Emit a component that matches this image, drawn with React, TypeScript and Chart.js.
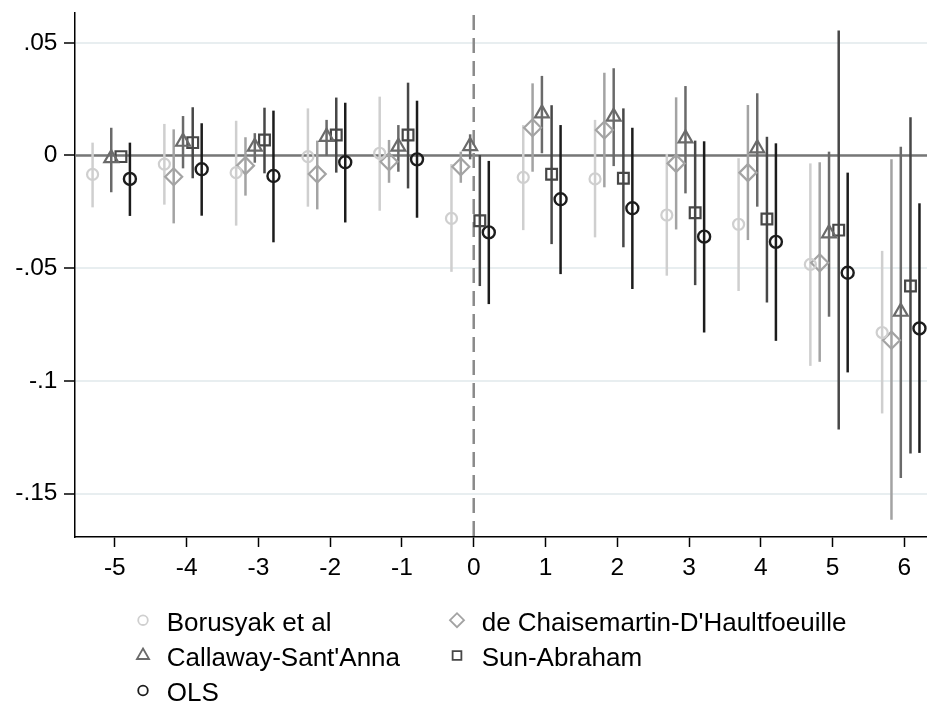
import React, { useEffect, useRef } from 'react';
import { Chart, registerables } from 'chart.js';

Chart.register(...registerables);

// ---------------- data ----------------
const periods = [-5, -4, -3, -2, -1, 0, 1, 2, 3, 4, 5, 6];
const xTicks = [-5, -4, -3, -2, -1, 0, 1, 2, 3, 4, 5, 6];
const yTicks = [0.05, 0, -0.05, -0.1, -0.15];
const yTickLabels = ['.05', '0', '-.05', '-.1', '-.15'];

const seriesNames = [
  'Borusyak et al',
  "de Chaisemartin-D'Haultfoeuille",
  "Callaway-Sant'Anna",
  'Sun-Abraham',
  'OLS',
];

const borusyakEst = [-0.0084, -0.0038, -0.0076, -0.0005, 0.001, -0.0279, -0.0097, -0.0104, -0.0264, -0.0305, -0.0483, -0.0785];
const borusyakLo = [-0.023, -0.0218, -0.0311, -0.0227, -0.0245, -0.0516, -0.0331, -0.0363, -0.0533, -0.0601, -0.0933, -0.1144];
const borusyakHi = [0.0057, 0.014, 0.0154, 0.0209, 0.0261, -0.0038, 0.0135, 0.0158, 0.0007, -0.0012, -0.0035, -0.0423];

const dcdhEst = [null, -0.0094, -0.0045, -0.0082, -0.0028, -0.005, 0.0123, 0.0113, -0.0035, -0.0076, -0.0476, -0.0819];
const dcdhLo = [null, -0.0301, -0.0178, -0.0239, -0.0121, -0.0121, -0.0072, -0.0141, -0.0328, -0.0375, -0.0915, -0.1615];
const dcdhHi = [null, 0.0116, 0.0081, 0.0066, 0.0069, 0.0017, 0.032, 0.0367, 0.0258, 0.0224, -0.003, -0.0017];

const csEst = [-0.0012, 0.0061, 0.0039, 0.0083, 0.0039, 0.0042, 0.0187, 0.0172, 0.0076, 0.0032, -0.0345, -0.0693];
const csLo = [-0.0163, -0.0057, -0.0032, -0.0001, -0.0072, -0.0017, 0.001, -0.0047, -0.0168, -0.0227, -0.0715, -0.143];
const csHi = [0.0123, 0.0175, 0.0099, 0.0158, 0.0135, 0.0094, 0.0353, 0.0387, 0.0308, 0.0276, 0.0017, 0.0039];

const saEst = [-0.0005, 0.0057, 0.0069, 0.0091, 0.0091, -0.0289, -0.0083, -0.0101, -0.0254, -0.0282, -0.0331, -0.0579];
const saLo = [null, -0.0101, -0.0079, -0.0076, -0.0146, -0.0579, -0.0393, -0.0407, -0.0575, -0.0652, -0.1215, -0.1322];
const saHi = [null, 0.0214, 0.0212, 0.0257, 0.0323, 0.0002, 0.0223, 0.0209, 0.0066, 0.0083, 0.0554, 0.017];

const olsEst = [-0.0104, -0.0061, -0.0091, -0.003, -0.0017, -0.0341, -0.0194, -0.0234, -0.036, -0.0383, -0.052, -0.0767];
const olsLo = [-0.0268, -0.0267, -0.0385, -0.0297, -0.0276, -0.0659, -0.0526, -0.0592, -0.0785, -0.0822, -0.0962, -0.1319];
const olsHi = [0.0057, 0.0143, 0.0199, 0.0234, 0.0243, -0.0024, 0.0135, 0.0123, 0.0063, 0.0054, -0.0076, -0.0212];

// ---------------- styles ----------------
const seriesStyle = [
  { color: '#cfcfcf', shape: 'circle', r: 5.5, lw: 2.2, offset: -0.31, legendR: 4.8 },
  { color: '#a3a3a3', shape: 'rectRot', r: 8.5, lw: 2.2, offset: -0.18, legendR: 7 },
  { color: '#6a6a6a', shape: 'triangle', r: 8, lw: 2.2, offset: -0.05, legendR: 7 },
  { color: '#474747', shape: 'rect', r: 7.6, lw: 2.2, offset: 0.085, legendR: 6.2 },
  { color: '#1c1c1c', shape: 'circle', r: 6, lw: 2.4, offset: 0.21, legendR: 4.8 },
];

const seriesData = [
  [borusyakEst, borusyakLo, borusyakHi],
  [dcdhEst, dcdhLo, dcdhHi],
  [csEst, csLo, csHi],
  [saEst, saLo, saHi],
  [olsEst, olsLo, olsHi],
];

const FONT = "'Liberation Sans', Arial, Helvetica, sans-serif";

function drawMarker(ctx: CanvasRenderingContext2D, shape: string, x: number, y: number, r: number) {
  ctx.beginPath();
  if (shape === 'circle') {
    ctx.arc(x, y, r, 0, Math.PI * 2);
  } else if (shape === 'triangle') {
    const w = r * Math.sin((2 * Math.PI) / 3);
    ctx.moveTo(x, y - r);
    ctx.lineTo(x + w, y + r / 2);
    ctx.lineTo(x - w, y + r / 2);
    ctx.closePath();
  } else if (shape === 'rect') {
    const s = r * Math.SQRT1_2;
    ctx.rect(x - s, y - s, 2 * s, 2 * s);
  } else if (shape === 'rectRot') {
    ctx.moveTo(x - r, y);
    ctx.lineTo(x, y - r);
    ctx.lineTo(x + r, y);
    ctx.lineTo(x, y + r);
    ctx.closePath();
  }
  ctx.stroke();
}

const refAndCiPlugin = {
  id: 'refAndCi',
  beforeDatasetsDraw(chart: any) {
    const { ctx, chartArea: a } = chart;
    const xs = chart.scales.x;
    const ys = chart.scales.y;
    ctx.save();
    ctx.beginPath();
    ctx.rect(a.left, a.top, a.right - a.left, a.bottom - a.top);
    ctx.clip();
    // zero line
    const y0 = ys.getPixelForValue(0);
    ctx.strokeStyle = '#777777';
    ctx.lineWidth = 2.5;
    ctx.beginPath();
    ctx.moveTo(a.left, y0);
    ctx.lineTo(a.right, y0);
    ctx.stroke();
    // dashed vertical line at 0
    const x0 = xs.getPixelForValue(0);
    ctx.setLineDash([15, 8]);
    ctx.lineDashOffset = -2;
    ctx.strokeStyle = '#8a8a8a';
    ctx.lineWidth = 2.5;
    ctx.beginPath();
    ctx.moveTo(x0, a.top);
    ctx.lineTo(x0, a.bottom);
    ctx.stroke();
    ctx.setLineDash([]);
    // confidence intervals
    chart.data.datasets.forEach((ds: any) => {
      ctx.strokeStyle = ds.borderColor;
      ctx.lineWidth = 2.5;
      ds.data.forEach((pt: any) => {
        if (pt.lo == null || pt.hi == null) return;
        const px = xs.getPixelForValue(pt.x);
        ctx.beginPath();
        ctx.moveTo(px, ys.getPixelForValue(pt.lo));
        ctx.lineTo(px, ys.getPixelForValue(pt.hi));
        ctx.stroke();
      });
    });
    ctx.restore();
  },
};

const legendLayout = [
  { series: 0, col: 0, row: 0 },
  { series: 1, col: 1, row: 0 },
  { series: 2, col: 0, row: 1 },
  { series: 3, col: 1, row: 1 },
  { series: 4, col: 0, row: 2 },
];
const legendMarkerX = [143, 457];
const legendTextX = [166.7, 481.7];
const legendBaseline = [630.7, 666, 701];

const legendPlugin = {
  id: 'customLegend',
  afterDraw(chart: any) {
    const ctx: CanvasRenderingContext2D = chart.ctx;
    ctx.save();
    legendLayout.forEach((it) => {
      const st = seriesStyle[it.series];
      const yb = legendBaseline[it.row];
      ctx.strokeStyle = st.color;
      ctx.lineWidth = 1.8;
      drawMarker(ctx, st.shape, legendMarkerX[it.col], yb - 10.5, st.legendR);
      ctx.fillStyle = '#000';
      ctx.font = `26px ${FONT}`;
      ctx.textAlign = 'left';
      ctx.textBaseline = 'alphabetic';
      ctx.fillText(seriesNames[it.series], legendTextX[it.col], yb);
    });
    ctx.restore();
  },
};

export default function App() {
  const ref = useRef<HTMLCanvasElement | null>(null);

  useEffect(() => {
    if (!ref.current) return;
    const datasets = seriesData.map(([est, lo, hi], s) => {
      const st = seriesStyle[s];
      const data = periods
        .map((p, i) =>
          est[i] == null
            ? null
            : { x: p + st.offset, y: est[i], lo: lo[i], hi: hi[i] }
        )
        .filter((d) => d !== null);
      return {
        label: seriesNames[s],
        data,
        showLine: false,
        pointStyle: st.shape,
        pointRadius: st.r,
        pointHoverRadius: st.r,
        pointBorderWidth: st.lw,
        borderColor: st.color,
        backgroundColor: 'rgba(0,0,0,0)',
        pointBackgroundColor: 'rgba(0,0,0,0)',
        pointBorderColor: st.color,
      };
    });

    const chart = new Chart(ref.current, {
      type: 'scatter',
      data: { datasets } as any,
      plugins: [refAndCiPlugin, legendPlugin],
      options: {
        animation: false,
        responsive: false,
        events: [],
        layout: { autoPadding: false, padding: { top: 13, left: 0, right: 0, bottom: 107 } },
        plugins: { legend: { display: false }, tooltip: { enabled: false } },
        scales: {
          x: {
            type: 'linear',
            min: -5.555,
            max: 6.315,
            grid: {
              drawOnChartArea: false,
              drawTicks: true,
              tickLength: 10,
              tickColor: '#000',
              tickWidth: 1.5,
            },
            border: { display: true, color: '#000', width: 1.5 },
            ticks: {
              color: '#000',
              font: { family: FONT, size: 24.5 },
              padding: 7,
              autoSkip: false,
              maxRotation: 0,
              callback: (v: any) => String(v),
            },
            afterBuildTicks: (s: any) => {
              s.ticks = xTicks.map((v) => ({ value: v }));
            },
            afterFit: (s: any) => {
              s.height = 60;
              s.paddingLeft = 0;
              s.paddingRight = 0;
              s.paddingTop = 0;
              s.paddingBottom = 0;
            },
          },
          y: {
            type: 'linear',
            min: -0.1692,
            max: 0.0632,
            grid: {
              color: '#e8eef0',
              lineWidth: 2,
              tickLength: 11,
              tickColor: '#000',
              tickWidth: 1.5,
            },
            border: { display: true, color: '#000', width: 1.5 },
            ticks: {
              color: '#000',
              font: { family: FONT, size: 24.5 },
              padding: 6.5,
              autoSkip: false,
              callback: (v: any) => {
                let best = 0;
                yTicks.forEach((t, i) => {
                  if (Math.abs(t - v) < Math.abs(yTicks[best] - v)) best = i;
                });
                return yTickLabels[best];
              },
            },
            afterBuildTicks: (s: any) => {
              s.ticks = yTicks.map((v) => ({ value: v }));
            },
            afterFit: (s: any) => {
              s.width = 75;
              s.paddingTop = 0;
              s.paddingBottom = 0;
              s.paddingLeft = 0;
              s.paddingRight = 0;
            },
          },
        },
      } as any,
    });
    return () => chart.destroy();
  }, []);

  return (
    <div style={{ position: 'absolute', left: 0, top: 0, width: 927, height: 704, background: '#fff' }}>
      <canvas ref={ref} width={927} height={704} style={{ display: 'block' }} />
    </div>
  );
}
